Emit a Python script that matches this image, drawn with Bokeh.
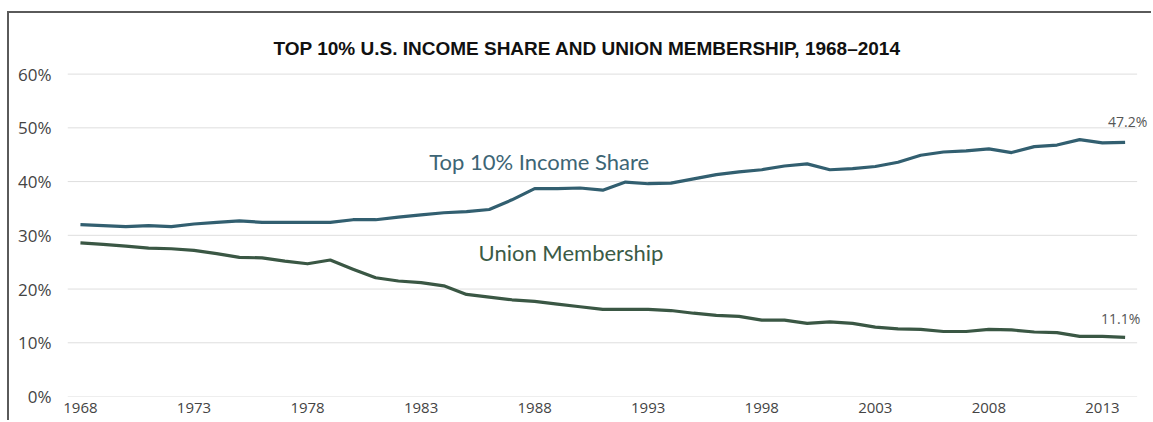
from bokeh.plotting import figure
from bokeh.models import FixedTicker, PrintfTickFormatter, Label, Range1d
from bokeh.core.properties import value
from bokeh.embed import file_html
from bokeh.resources import INLINE

years = list(range(1968, 2015))
income_share = [32.0, 31.8, 31.6, 31.8, 31.6, 32.1, 32.4, 32.7, 32.4, 32.4,
                32.4, 32.4, 32.9, 32.9, 33.4, 33.8, 34.2, 34.4, 34.8, 36.6,
                38.7, 38.7, 38.8, 38.4, 39.9, 39.6, 39.7, 40.5, 41.3, 41.8,
                42.2, 42.9, 43.3, 42.2, 42.4, 42.8, 43.6, 44.9, 45.5, 45.7,
                46.1, 45.4, 46.5, 46.8, 47.8, 47.2, 47.3]
union_membership = [28.6, 28.3, 28.0, 27.6, 27.5, 27.2, 26.6, 25.9, 25.8, 25.2,
                    24.7, 25.4, 23.7, 22.1, 21.5, 21.2, 20.6, 19.0, 18.5, 18.0,
                    17.7, 17.2, 16.7, 16.2, 16.2, 16.2, 16.0, 15.5, 15.1, 14.9,
                    14.2, 14.2, 13.6, 13.9, 13.6, 12.9, 12.6, 12.5, 12.1, 12.1,
                    12.5, 12.4, 12.0, 11.9, 11.2, 11.2, 11.0]
x_ticks = [1968, 1973, 1978, 1983, 1988, 1993, 1998, 2003, 2008, 2013]
y_ticks = [0, 10, 20, 30, 40, 50, 60]
series_labels = ["Top 10% Income Share", "Union Membership"]
end_labels = ["47.2%", "11.1%"]

INCOME_COLOR = "#325f70"
UNION_COLOR = "#3a5744"

x_start, x_end = years[0] - 0.57, years[-1] + 1.25

p = figure(width=1144, height=409, output_backend="svg", toolbar_location=None,
           x_range=Range1d(x_start, x_end), y_range=Range1d(0, 60.3),
           min_border_left=58, min_border_right=0, min_border_top=59,
           min_border_bottom=26)
p.margin = (11, 0, 0, 7)
p.styles = {"border-left": "2px solid #5a5a5a", "border-top": "2px solid #5a5a5a"}

p.title.text = "TOP 10% U.S. INCOME SHARE AND UNION MEMBERSHIP, 1968\u20132014"
p.title.text_font = "Liberation Sans"
p.title.text_font_size = "19px"
p.title.text_font_style = "bold"
p.title.text_color = "#111111"
p.title.align = "left"
p.title.offset = 206
p.title.standoff = 28

p.outline_line_color = None
p.background_fill_color = "white"
p.border_fill_color = "white"

p.xgrid.grid_line_color = None
p.ygrid.grid_line_color = None

# horizontal gridlines, spanning the data years only
p.segment(x0=[years[0] - 0.57] * len(y_ticks), x1=[years[-1] + 0.53] * len(y_ticks),
          y0=y_ticks, y1=y_ticks, line_color="#dedede", line_width=1)

for ax in (p.xaxis[0], p.yaxis[0]):
    ax.axis_line_color = None
    ax.major_tick_line_color = None
    ax.minor_tick_line_color = None
    ax.major_label_text_font = "Open Sans"
    ax.major_label_text_color = "#444444"

p.xaxis[0].ticker = FixedTicker(ticks=x_ticks)
p.xaxis[0].major_label_standoff = 0
p.xaxis[0].major_label_text_font_size = "15px"
p.yaxis[0].ticker = FixedTicker(ticks=y_ticks)
p.yaxis[0].formatter = PrintfTickFormatter(format="%d%%")
p.yaxis[0].major_label_standoff = 10
p.yaxis[0].major_label_text_font_size = "17px"

p.line(years, income_share, line_width=3.2, line_color=INCOME_COLOR, line_join="round")
p.line(years, union_membership, line_width=3.2, line_color=UNION_COLOR, line_join="round")

p.text(x=[1988.2], y=[43.8], text=[series_labels[0]], text_align="center",
       text_baseline="alphabetic", text_font=value("Lato"), text_font_size="22px",
       text_color="#3d6575")
p.text(x=[1989.6], y=[26.8], text=[series_labels[1]], text_align="center",
       text_baseline="alphabetic", text_font=value("Lato"), text_font_size="22px",
       text_color="#3b5b46")

p.add_layout(Label(x=2014.98, y=51.1, text=end_labels[0], text_align="right",
                   text_baseline="alphabetic", text_font="Open Sans",
                   text_font_size="14px", text_color="#555555"))
p.add_layout(Label(x=2014.67, y=14.5, text=end_labels[1], text_align="right",
                   text_baseline="alphabetic", text_font="Open Sans",
                   text_font_size="14px", text_color="#555555"))

open("out.html", "w").write(file_html(p, INLINE))
